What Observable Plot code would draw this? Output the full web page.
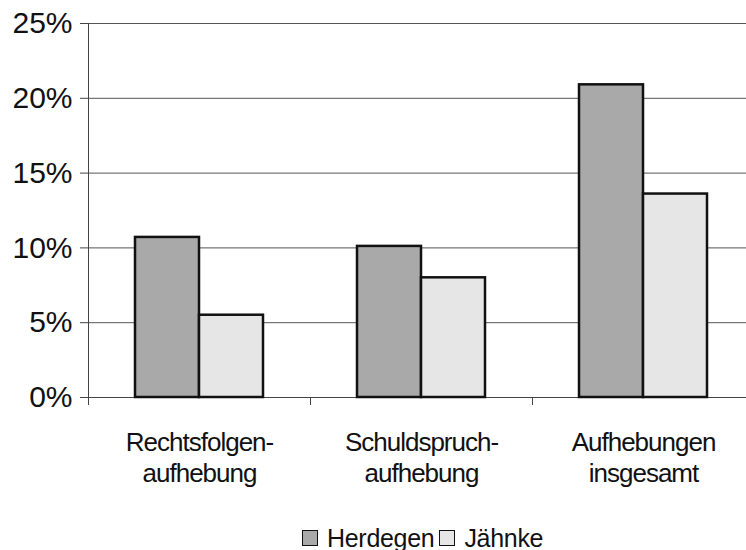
<!DOCTYPE html>
<html><head><meta charset="utf-8">
<script src="https://cdn.jsdelivr.net/npm/d3@7"></script>
<script src="https://cdn.jsdelivr.net/npm/@observablehq/plot@0.6"></script>
<style>
body{margin:0;background:#fff;overflow:hidden;font-family:"Liberation Sans",Arial,sans-serif;}
#chart svg{display:block;overflow:hidden;}
g[aria-label="fx-axis tick label"] text{letter-spacing:-1px;}
#legend{height:50px;box-sizing:border-box;padding:25px 0 0 302px;display:flex;align-items:center;font-size:25px;letter-spacing:-0.3px;color:#111;line-height:24px;}
.sw{width:14px;height:14px;border:1.5px solid #111;margin-right:9px;}
.item{display:flex;align-items:center;margin-right:5px;}
</style></head><body>
<div id="chart"></div>
<div id="legend"></div>
<script>
const categories = ["Rechtsfolgen-\naufhebung", "Schuldspruch-\naufhebung", "Aufhebungen\ninsgesamt"];
const series = ["Herdegen", "Jähnke"];
const herdegen = [10.7, 10.1, 20.9];
const jaehnke = [5.5, 8.0, 13.6];
const yTicks = [0, 5, 10, 15, 20, 25];
const colors = ["#a9a9a9", "#e6e6e6"];

const data = categories.flatMap((c, i) => [
  {category: c, series: series[0], value: herdegen[i]},
  {category: c, series: series[1], value: jaehnke[i]}
]);

const plot = Plot.plot({
  width: 746, height: 500,
  marginLeft: 88, marginRight: -8, marginTop: 23, marginBottom: 103,
  style: {fontFamily: '"Liberation Sans", Arial, sans-serif', background: "#fff", color: "#111"},
  fx: {domain: categories, padding: 0, label: null},
  x: {domain: series, paddingInner: 0, paddingOuter: 0.72, axis: null},
  y: {domain: [0, 25], label: null},
  color: {domain: series, range: colors},
  marks: [
    Plot.gridY(yTicks.slice(1), {stroke: "#555", strokeOpacity: 1, strokeWidth: 1}),
    Plot.ruleY([0], {stroke: "#444", strokeWidth: 1}),
    Plot.barY(data, {fx: "category", x: "series", y: "value", fill: "series", stroke: "#111", strokeWidth: 2.5}),
    Plot.axisY(yTicks, {tickSize: 8, tickPadding: 8, tickFormat: d => d + "%", fontSize: 30, stroke: "#444", fill: "#111", label: null}),
    Plot.axisFx({anchor: "bottom", tickSize: 0, tickPadding: 32, fontSize: 26, lineHeight: 1.19, fill: "#111", label: null}),
    Plot.frame({anchor: "left", facetAnchor: "left", stroke: "#444"}),
    Plot.frame({anchor: "left", insetTop: 374, insetBottom: -7, stroke: "#444"})
  ]
});
document.getElementById("chart").appendChild(plot);

const legend = document.getElementById("legend");
series.forEach((s, i) => {
  const item = document.createElement("div");
  item.className = "item";
  const sw = document.createElement("div");
  sw.className = "sw";
  sw.style.background = colors[i];
  const t = document.createElement("span");
  t.textContent = s;
  item.appendChild(sw); item.appendChild(t);
  legend.appendChild(item);
});
</script>
</body></html>
